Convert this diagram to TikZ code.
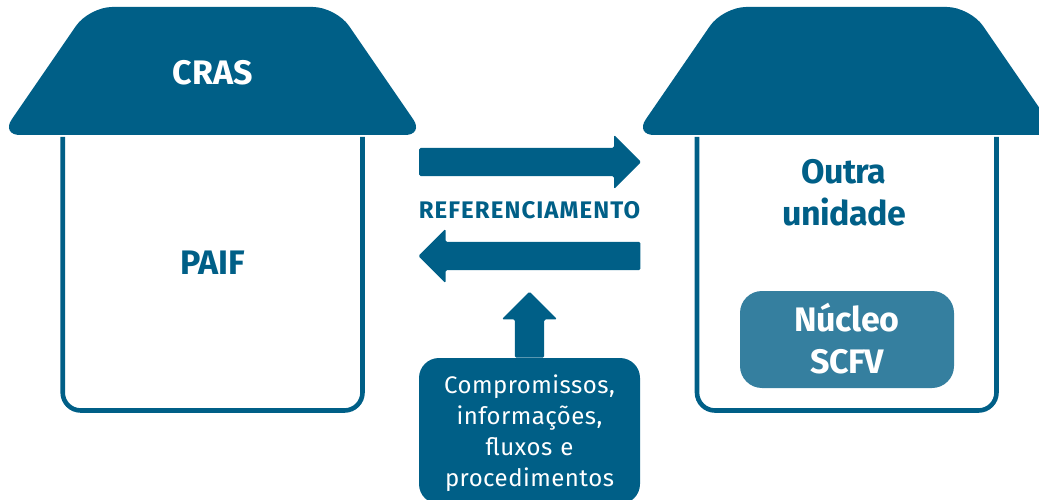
\documentclass[tikz,border=0pt]{standalone}
\usepackage{fontspec}
\setmainfont{Fira Sans}
\usetikzlibrary{shapes.arrows}
\definecolor{petroleo}{HTML}{005F87}
\definecolor{petroclaro}{HTML}{357F9F}
\tikzset{
  roof/.style={fill=petroleo},
  house/.style={draw=petroleo, line width=4.6pt, rounded corners=18pt},
  title/.style={
    align=center,
    inner sep=0pt,
    font=\bfseries\fontsize{34}{42}\selectfont},
  tighttitle/.style={
    title,
    font=\bfseries\addfontfeature{LetterSpace=-1.5}\fontsize{34}{42}\selectfont},
  fluxo/.style={
    single arrow,
    fill=petroleo,
    rounded corners=1.5pt,
    inner sep=14pt,
    minimum width=54pt,
    single arrow head extend=13pt,
    single arrow tip angle=90,
    single arrow head indent=0pt,
    anchor=tail},
  nucleo/.style={
    tighttitle,
    fill=petroclaro,
    text=white,
    rounded corners=22pt,
    minimum width=214pt,
    minimum height=97pt},
  compbox/.style={
    fill=petroleo,
    text=white,
    align=center,
    inner sep=0pt,
    rounded corners=20pt,
    text width=221pt,
    minimum height=146pt,
    font=\addfontfeature{LetterSpace=2}\fontsize{24}{31}\selectfont},
}
\newcommand{\roofpath}{[rounded corners=19pt] (212,135) -- (1,135) [rounded corners=23pt] -- (89,7) -- (336,7) [rounded corners=19pt] -- (424,135) -- cycle}
\begin{document}
\begin{tikzpicture}[x=1pt,y=-1pt]
  \clip (0,0) rectangle (1039,500);
  % houses
  \fill[roof] \roofpath;
  \fill[roof, xshift=634pt] \roofpath;
  \draw[house] (62.7,137) -- (62.7,410.5) -- (362.5,410.5) -- (362.5,137);
  \draw[house] (697,137) -- (697,410.5) -- (996.5,410.5) -- (996.5,137);
  \node[title, text=white] (cras) at (212.5,73) {CRAS};
  \node[title, text=petroleo] (paif) at (212.5,263) {PAIF};
  \node[tighttitle, text=petroleo] (outra) at (844,193) {Outra\\unidade};
  \node[nucleo] (scfv) at (847,339.5) {\raisebox{2.5pt}{Núcleo}\\\raisebox{2.5pt}{SCFV}};
  % arrows
  \node[fluxo, minimum height=222pt] (ida) at (419,162) {};
  \node[fluxo, minimum height=222pt, shape border rotate=180] (volta) at (640.5,256) {};
  \node[inner sep=0pt, text=petroleo, font=\bfseries\addfontfeature{LetterSpace=4.5}\fontsize{24}{28}\selectfont] (ref) at (529.5,210) {REFERENCIAMENTO};
  \node[compbox] (comp) at (529.5,431) {\rule{0pt}{24pt}Compromissos,\\informações,\\fluxos e\\procedimentos};
  \node[fluxo, minimum height=66pt, inner sep=14.5pt, shape border rotate=90] (sobe) at (comp.north) {};
\end{tikzpicture}
\end{document}
